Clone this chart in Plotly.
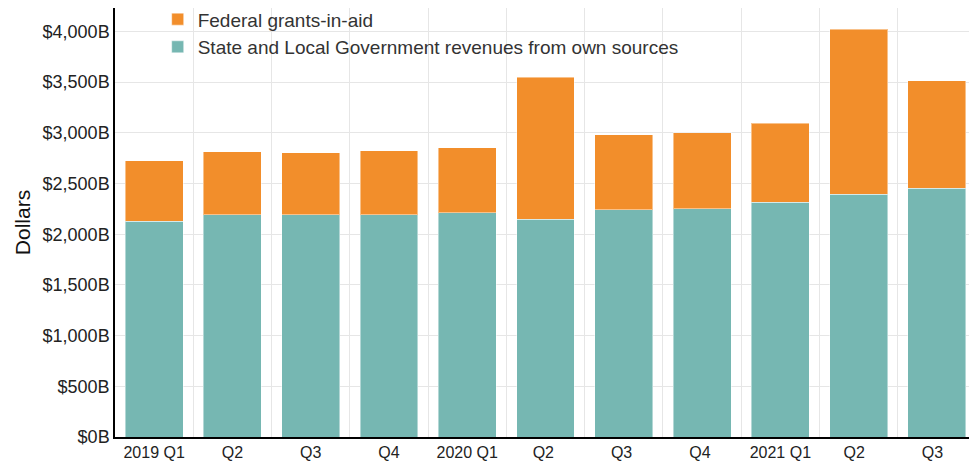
import plotly.graph_objects as go

quarters = ["2019 Q1", "Q2", "Q3", "Q4", "2020 Q1", "Q2 ", "Q3 ", "Q4 ", "2021 Q1", "Q2  ", "Q3  "]
own_sources = [2130, 2194, 2194, 2194, 2214, 2149, 2240, 2253, 2315, 2396, 2452]
federal_grants = [595, 619, 609, 629, 641, 1399, 739, 746, 781, 1627, 1064]

teal = "#76B7B2"
orange = "#F28E2B"
font_family = "Liberation Sans, Arial, sans-serif"

fig = go.Figure()
fig.add_trace(go.Bar(
    x=quarters, y=own_sources,
    name="State and Local Government revenues from own sources",
    marker=dict(color=teal, line=dict(color="rgba(255,255,255,0.45)", width=1)),
))
fig.add_trace(go.Bar(
    x=quarters, y=federal_grants,
    name="Federal grants-in-aid",
    marker=dict(color=orange, line=dict(color="rgba(255,255,255,0.45)", width=1)),
))

fig.update_layout(
    width=969, height=461,
    barmode="stack", bargap=0.26,
    plot_bgcolor="white", paper_bgcolor="white",
    margin=dict(l=115, r=0, t=8, b=19.5),
    font=dict(family=font_family, color="#222222"),
    legend=dict(
        x=0.05, y=1.018, xanchor="left", yanchor="top",
        font=dict(size=19, color="#333333"),
        bgcolor="rgba(0,0,0,0)", itemwidth=30,
        tracegroupgap=0,
    ),
    xaxis=dict(
        type="category", range=[-0.5, 10.41],
        tickson="boundaries", showgrid=True, gridcolor="#e6e6e6", gridwidth=1,
        ticks="", tickfont=dict(size=16, color="#222222"),
        showline=True, linecolor="black", linewidth=2,
        fixedrange=True,
    ),
    yaxis=dict(
        range=[0, 4231], dtick=500, tick0=0,
        tickprefix="$", ticksuffix="B", tickformat=",",
        tickfont=dict(size=18, color="#222222"),
        showgrid=True, gridcolor="#e6e6e6", gridwidth=1,
        showline=True, linecolor="black", linewidth=1.5,
        zeroline=False, ticks="",
        title=dict(text="Dollars", font=dict(size=21, color="#111111"), standoff=6),
    ),
)

fig.write_html(
    "out.html",
    config={"displayModeBar": False},
    post_script="document.body.style.margin='0px';document.body.style.overflow='hidden';",
)
